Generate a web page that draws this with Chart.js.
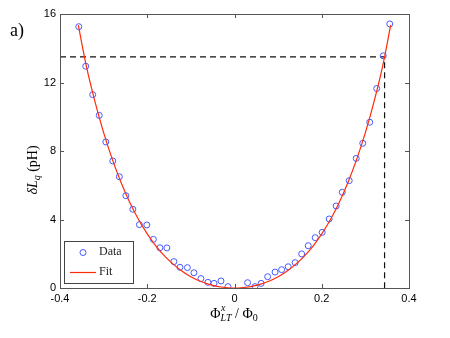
<!DOCTYPE html>
<html>
<head>
<meta charset="utf-8">
<script src="https://cdn.jsdelivr.net/npm/chart.js@4"></script>
<style>
  body { margin: 0; background: #fff; }
  canvas { display: block; }
</style>
</head>
<body>
<canvas id="chart" width="450" height="338"></canvas>
<script>
// measured points
var dataX = [-0.357, -0.341, -0.325, -0.310, -0.295, -0.279, -0.264, -0.249, -0.233, -0.218,
  -0.201, -0.186, -0.171, -0.155, -0.139, -0.125, -0.108, -0.093, -0.077, -0.061,
  -0.047, -0.031, -0.015,
  0.030, 0.047, 0.061, 0.076, 0.093, 0.108, 0.123, 0.139, 0.154, 0.169,
  0.185, 0.201, 0.217, 0.233, 0.247, 0.263, 0.279, 0.294, 0.310, 0.326, 0.341, 0.356];
var dataY = [15.26, 12.95, 11.29, 10.08, 8.53, 7.42, 6.50, 5.39, 4.60, 3.70,
  3.68, 2.84, 2.35, 2.34, 1.54, 1.21, 1.19, 0.89, 0.55, 0.33,
  0.27, 0.41, 0.08,
  0.31, 0.08, 0.27, 0.66, 0.93, 1.07, 1.24, 1.48, 1.99, 2.47,
  2.94, 3.25, 4.03, 4.79, 5.59, 6.27, 7.57, 8.45, 9.68, 11.65, 13.56, 15.42];

// fit curve
var fitX = [-0.358, -0.34, -0.32, -0.30, -0.28, -0.26, -0.24, -0.22, -0.20, -0.18, -0.16, -0.14,
  -0.12, -0.10, -0.08, -0.06, -0.04, -0.02, 0, 0.02, 0.04, 0.06, 0.08, 0.10, 0.12, 0.14,
  0.16, 0.18, 0.20, 0.22, 0.24, 0.26, 0.28, 0.30, 0.32, 0.34, 0.358];
var fitY = [15.35, 13.0, 10.9, 9.07, 7.51, 6.16, 4.99, 4.00, 3.16, 2.45, 1.86, 1.38,
  0.98, 0.66, 0.41, 0.23, 0.10, 0.03, 0, 0.03, 0.10, 0.23, 0.41, 0.66, 0.98, 1.38,
  1.86, 2.45, 3.16, 4.00, 4.99, 6.16, 7.51, 9.07, 10.9, 13.0, 15.35];

// dashed guide
var guideX = [-0.4, 0.344, 0.344];
var guideY = [13.5, 13.5, 0];

var xTicks = [-0.4, -0.2, 0, 0.2, 0.4];
var yTicks = [0, 4, 8, 12, 16];

function pts(xs, ys) {
  return xs.map(function (v, i) { return { x: v, y: ys[i] }; });
}

var dataColor = "rgb(70, 90, 255)";
var fitColor = "#ff2a0a";

var overlay = {
  id: "overlay",
  afterDraw: function (chart) {
    var ctx = chart.ctx;
    var a = chart.chartArea;
    var sx = chart.scales.x, sy = chart.scales.y;
    ctx.save();

    // box and inward ticks
    ctx.strokeStyle = "#555";
    ctx.lineWidth = 1;
    ctx.strokeRect(Math.round(a.left) + 0.5, Math.round(a.top) + 0.5,
      Math.round(a.right - a.left), Math.round(a.bottom - a.top));
    ctx.beginPath();
    xTicks.forEach(function (v) {
      var p = Math.round(sx.getPixelForValue(v)) + 0.5;
      ctx.moveTo(p, a.bottom); ctx.lineTo(p, a.bottom - 4);
      ctx.moveTo(p, a.top); ctx.lineTo(p, a.top + 4);
    });
    yTicks.forEach(function (v) {
      var p = Math.round(sy.getPixelForValue(v)) + 0.5;
      ctx.moveTo(a.left, p); ctx.lineTo(a.left + 4, p);
      ctx.moveTo(a.right, p); ctx.lineTo(a.right - 4, p);
    });
    ctx.stroke();

    // legend box
    var lx = 64, ly = 241, lw = 69, lh = 42;
    ctx.fillStyle = "#fff";
    ctx.fillRect(lx, ly, lw, lh);
    ctx.strokeStyle = "#444";
    ctx.strokeRect(lx + 0.5, ly + 0.5, lw, lh);
    ctx.strokeStyle = dataColor;
    ctx.beginPath();
    ctx.arc(83, 252.5, 3, 0, Math.PI * 2);
    ctx.stroke();
    ctx.strokeStyle = fitColor;
    ctx.lineWidth = 1.2;
    ctx.beginPath();
    ctx.moveTo(70, 272.5); ctx.lineTo(96, 272.5);
    ctx.stroke();
    ctx.fillStyle = "#222";
    ctx.font = "12px 'Liberation Serif'";
    ctx.textBaseline = "middle";
    ctx.textAlign = "left";
    ctx.fillText("Data", 99, 252);
    ctx.fillText("Fit", 99, 272);

    // panel label
    ctx.fillStyle = "#000";
    ctx.font = "18px 'Liberation Serif'";
    ctx.fillText("a)", 10, 31);

    // x title: Φ^x_LT / Φ_0
    ctx.textBaseline = "alphabetic";
    var big = "14px 'Liberation Serif'";
    var it = "italic 10px 'Liberation Serif'";
    var sm = "10px 'Liberation Serif'";
    ctx.font = big;
    var w1 = ctx.measureText("Φ").width;
    ctx.font = it;
    var w2 = ctx.measureText("LT").width;
    ctx.font = big;
    var w3 = ctx.measureText(" / Φ").width;
    ctx.font = sm;
    var w4 = ctx.measureText("0").width;
    var total = w1 + w2 + w3 + w4;
    var x0 = 234 - total / 2, base = 318;
    ctx.font = big;
    ctx.fillText("Φ", x0, base);
    ctx.font = it;
    ctx.fillText("x", x0 + w1 + 0.5, base - 7);
    ctx.fillText("LT", x0 + w1, base + 3);
    ctx.font = big;
    ctx.fillText(" / Φ", x0 + w1 + w2, base);
    ctx.font = sm;
    ctx.fillText("0", x0 + w1 + w2 + w3, base + 3);

    // y title: δL_q (pH)
    ctx.translate(37, 170);
    ctx.rotate(-Math.PI / 2);
    var ib = "italic 14px 'Liberation Serif'";
    ctx.font = ib;
    var v1 = ctx.measureText("δL").width;
    ctx.font = it;
    var v2 = ctx.measureText("q").width;
    ctx.font = big;
    var v3 = ctx.measureText(" (pH)").width;
    var y0 = -(v1 + v2 + v3) / 2;
    ctx.font = ib;
    ctx.fillText("δL", y0, 0);
    ctx.font = it;
    ctx.fillText("q", y0 + v1, 3);
    ctx.font = big;
    ctx.fillText(" (pH)", y0 + v1 + v2, 0);

    ctx.restore();
  }
};

new Chart(document.getElementById("chart").getContext("2d"), {
  type: "scatter",
  data: {
    datasets: [
      {
        label: "Fit",
        data: pts(fitX, fitY),
        showLine: true,
        borderColor: fitColor,
        borderWidth: 1.2,
        pointRadius: 0,
        tension: 0.4,
        fill: false
      },
      {
        label: "Data",
        data: pts(dataX, dataY),
        pointStyle: "circle",
        pointRadius: 3,
        borderWidth: 1,
        borderColor: dataColor,
        backgroundColor: "rgba(0,0,0,0)"
      },
      {
        label: "guide",
        data: pts(guideX, guideY),
        showLine: true,
        borderColor: "#111",
        borderWidth: 1.2,
        borderDash: [6, 4],
        pointRadius: 0,
        tension: 0,
        fill: false
      }
    ]
  },
  options: {
    responsive: false,
    animation: false,
    layout: { padding: { left: 0, top: 14, right: 41, bottom: 0 } },
    plugins: {
      legend: { display: false },
      tooltip: { enabled: false }
    },
    scales: {
      x: {
        type: "linear",
        min: -0.4,
        max: 0.4,
        afterBuildTicks: function (s) { s.ticks = xTicks.map(function (v) { return { value: v }; }); },
        afterFit: function (s) { s.height = 50; },
        grid: { display: false, drawTicks: false },
        border: { display: false },
        ticks: {
          padding: 4,
          color: "#000",
          font: { family: "'Liberation Sans'", size: 11 },
          callback: function (v) { return v === 0 ? "0" : v.toFixed(1); }
        }
      },
      y: {
        type: "linear",
        min: 0,
        max: 16,
        afterBuildTicks: function (s) { s.ticks = yTicks.map(function (v) { return { value: v }; }); },
        afterFit: function (s) { s.width = 60; },
        grid: { display: false, drawTicks: false },
        border: { display: false },
        ticks: {
          padding: 4,
          color: "#000",
          font: { family: "'Liberation Sans'", size: 11 }
        }
      }
    }
  },
  plugins: [overlay]
});
</script>
</body>
</html>
